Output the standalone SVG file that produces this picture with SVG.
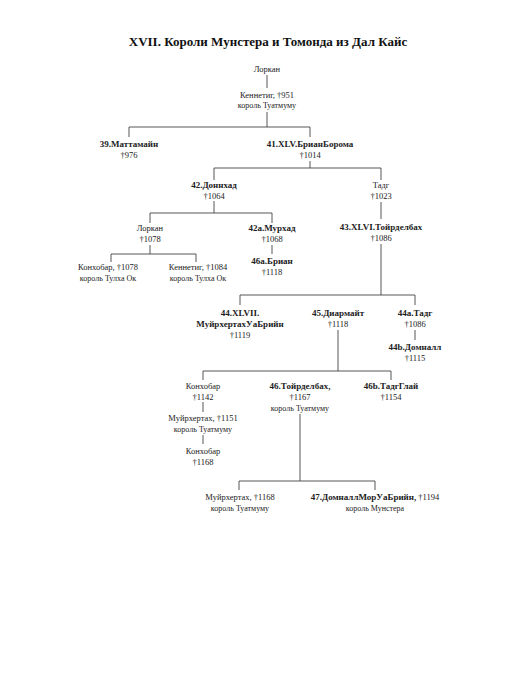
<svg xmlns="http://www.w3.org/2000/svg" width="529" height="700" viewBox="0 0 529 700">
<style>
text{font-family:"Liberation Serif","DejaVu Serif",serif;font-size:8.5px;fill:#222;text-anchor:middle}
.b{font-weight:bold;font-size:9px}
.t{font-weight:bold;font-size:13px;fill:#111}
.s{font-size:8px}
#connectors path{stroke:#444;stroke-width:0.9;fill:none}
</style>
<rect width="529" height="700" fill="#fff"/>
<text class="t" x="268" y="46">XVII. Короли Мунстера и Томонда из Дал Кайс</text>
<g id="connectors">
<path d="M267 75V88"/>
<path d="M267 112V127M129 137V127H310V137"/>
<path d="M310 161V168M214 180V168H381V180"/>
<path d="M214 201V213M150 223V213H272V223"/>
<path d="M150 245V254M111 262V254H196V262"/>
<path d="M272 245V254"/>
<path d="M381 202V219"/>
<path d="M381 244V295M240 305V295H415V305"/>
<path d="M415 330V340"/>
<path d="M338 330V371M203 380V371H391V380"/>
<path d="M203 402V412"/>
<path d="M203 435V444"/>
<path d="M300 414V481M239 490V481H375V490"/>
</g>
<g id="n-lorkan"><text x="267" y="72">Лоркан</text></g>
<g id="n-kennetig"><text x="267" y="98">Кеннетиг, †951</text><text class="s" x="267" y="108">король Туатмуму</text></g>
<g id="n39"><text class="b" x="129" y="147">39.Маттамайн</text><text x="129" y="158">†976</text></g>
<g id="n41"><text class="b" x="310" y="147">41.XLV.БрианБорома</text><text x="310" y="158">†1014</text></g>
<g id="n42"><text class="b" x="214" y="188">42.Доннхад</text><text x="214" y="199">†1064</text></g>
<g id="n-tadg"><text x="381" y="188">Тадг</text><text x="381" y="199">†1023</text></g>
<g id="n-lorkan2"><text x="150" y="231">Лоркан</text><text x="150" y="242">†1078</text></g>
<g id="n42a"><text class="b" x="272" y="231">42а.Мурхад</text><text x="272" y="242">†1068</text></g>
<g id="n43"><text class="b" x="381" y="230">43.XLVI.Тойрделбах</text><text x="381" y="241">†1086</text></g>
<g id="n-konhobar1"><text x="108" y="270">Конхобар, †1078</text><text class="s" x="108" y="281">король Тулха Ок</text></g>
<g id="n-kennetig2"><text x="198" y="270">Кеннетиг, †1084</text><text class="s" x="198" y="281">король Тулха Ок</text></g>
<g id="n46a"><text class="b" x="272" y="264">46а.Бриан</text><text x="272" y="275">†1118</text></g>
<g id="n44"><text class="b" x="240" y="316">44.XLVII.</text><text class="b" x="240" y="327">МуйрхертахУаБрийн</text><text x="240" y="338">†1119</text></g>
<g id="n45"><text class="b" x="338" y="316">45.Диармайт</text><text x="338" y="327">†1118</text></g>
<g id="n44a"><text class="b" x="415" y="316">44а.Тадг</text><text x="415" y="327">†1086</text></g>
<g id="n44b"><text class="b" x="415" y="350">44b.Домналл</text><text x="415" y="361">†1115</text></g>
<g id="n-konhobar2"><text x="203" y="389">Конхобар</text><text x="203" y="400">†1142</text></g>
<g id="n46"><text class="b" x="300" y="389">46.Тойрделбах,</text><text x="300" y="400">†1167</text><text class="s" x="300" y="411">король Туатмуму</text></g>
<g id="n46b"><text class="b" x="391" y="389">46b.ТадгГлай</text><text x="391" y="400">†1154</text></g>
<g id="n-muirh1"><text x="203" y="421">Муйрхертах, †1151</text><text class="s" x="203" y="432">король Туатмуму</text></g>
<g id="n-konhobar3"><text x="203" y="454">Конхобар</text><text x="203" y="465">†1168</text></g>
<g id="n-muirh2"><text x="240" y="500">Муйрхертах, †1168</text><text class="s" x="240" y="511">король Туатмуму</text></g>
<g id="n47"><text x="375" y="500"><tspan font-weight="bold" font-size="9px">47.ДомналлМорУаБрийн,</tspan> †1194</text><text class="s" x="375" y="511">король Мунстера</text></g>
</svg>
